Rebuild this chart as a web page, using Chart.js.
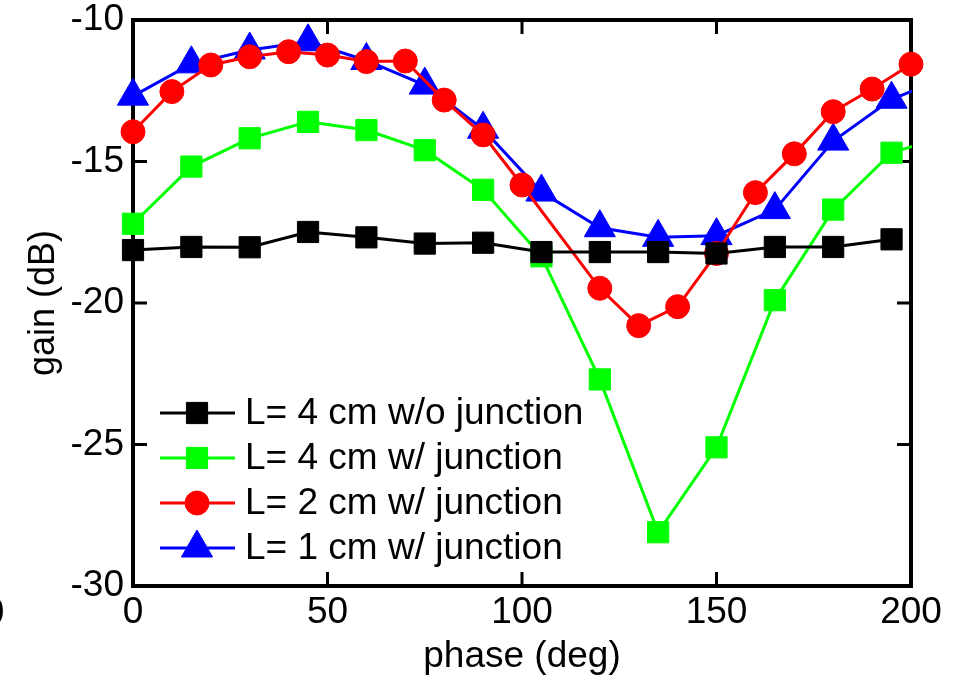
<!DOCTYPE html>
<html>
<head>
<meta charset="utf-8">
<script src="https://cdn.jsdelivr.net/npm/chart.js@4/dist/chart.umd.min.js"></script>
<style>
  body { margin: 0; background: #fff; }
  canvas { display: block; }
</style>
</head>
<body>
<canvas id="gainChart" width="961" height="679"></canvas>
<script>
// phase values (deg)
const phase15 = [0, 15, 30, 45, 60, 75, 90, 105, 120, 135, 150, 165, 180, 195];
const phase15ext = [0, 15, 30, 45, 60, 75, 90, 105, 120, 135, 150, 165, 180, 195, 210];
const phase10 = [0, 10, 20, 30, 40, 50, 60, 70, 80, 90, 100, 120, 130, 140, 150, 160, 170, 180, 190, 200];

// gain (dB)
const gain4cmNoJunction = [-18.13, -18.02, -18.03, -17.49, -17.68, -17.9, -17.87, -18.2, -18.2, -18.2, -18.25, -18.02, -18.02, -17.75];
const gain4cmJunction = [-17.2, -15.18, -14.18, -13.6, -13.89, -14.6, -16.0, -18.35, -22.7, -28.1, -25.1, -19.9, -16.7, -14.69, -14.06];
const gain2cmJunction = [-13.95, -12.53, -11.59, -11.3, -11.12, -11.24, -11.47, -11.45, -12.83, -14.06, -15.83, -19.48, -20.8, -20.13, -18.25, -16.1, -14.73, -13.24, -12.44, -11.56];
const gain1cmJunction = [-12.69, -11.55, -11.06, -10.77, -11.43, -12.3, -13.86, -16.08, -17.34, -17.68, -17.62, -16.7, -14.28, -12.8, -11.98];

const seriesNames = ['L= 4 cm w/o junction', 'L= 4 cm w/ junction', 'L= 2 cm w/ junction', 'L= 1 cm w/ junction'];
const xTicks = [0, 50, 100, 150, 200];
const yTicks = [-30, -25, -20, -15, -10];

const FONT = "'Liberation Sans', Arial, sans-serif";

function toPoints(xs, ys) {
    return ys.map((v, i) => ({ x: xs[i], y: v }));
}

function serie(label, xs, ys, color, style, radius, order, clip) {
    return {
        label: label,
        data: toPoints(xs, ys),
        borderColor: color,
        backgroundColor: color,
        borderWidth: 3,
        pointStyle: style,
        pointRadius: radius,
        pointBorderWidth: 1,
        pointBackgroundColor: color,
        pointBorderColor: color,
        tension: 0,
        order: order,
        clip: clip
    };
}

const wideClip = { left: 20, top: 20, right: 20, bottom: 20 };
const edgeClip = { left: 20, top: 20, right: 1, bottom: 20 };

// axis box with inward ticks on all four sides
const boxPlugin = {
    id: 'box',
    beforeDatasetsDraw(chart) {
        const { ctx, chartArea: a, scales } = chart;
        ctx.save();
        ctx.strokeStyle = '#000';
        ctx.lineWidth = 4;
        ctx.strokeRect(a.left, a.top, a.right - a.left, a.bottom - a.top);
        ctx.lineWidth = 3;
        ctx.beginPath();
        xTicks.forEach(v => {
            const px = scales.x.getPixelForValue(v);
            ctx.moveTo(px, a.bottom); ctx.lineTo(px, a.bottom - 14);
            ctx.moveTo(px, a.top); ctx.lineTo(px, a.top + 14);
        });
        yTicks.forEach(v => {
            const py = scales.y.getPixelForValue(v);
            ctx.moveTo(a.left, py); ctx.lineTo(a.left + 14, py);
            ctx.moveTo(a.right, py); ctx.lineTo(a.right - 14, py);
        });
        ctx.stroke();
        // stray tick label at the left edge
        ctx.fillStyle = '#000';
        ctx.font = '37px ' + FONT;
        ctx.textAlign = 'center';
        ctx.textBaseline = 'middle';
        ctx.fillText('0', -6, 614);
        ctx.restore();
    }
};

// legend inside the plot, line + marker
const legendPlugin = {
    id: 'innerLegend',
    afterDraw(chart) {
        const { ctx, chartArea: a } = chart;
        const rowOffsets = [173, 128, 83, 38];
        ctx.save();
        chart.data.datasets.forEach((ds, i) => {
            const y = a.bottom - rowOffsets[i];
            const x0 = a.left + 27;
            ctx.strokeStyle = ds.borderColor;
            ctx.lineWidth = 3;
            ctx.beginPath();
            ctx.moveTo(x0, y);
            ctx.lineTo(x0 + 75, y);
            ctx.stroke();
            ctx.fillStyle = ds.pointBackgroundColor;
            ctx.strokeStyle = ds.pointBorderColor;
            ctx.lineWidth = 1;
            Chart.helpers.drawPoint(ctx, {
                pointStyle: ds.pointStyle,
                radius: ds.pointRadius,
                rotation: 0,
                borderWidth: 1
            }, x0 + 37, y);
            ctx.fillStyle = '#000';
            ctx.font = '37px ' + FONT;
            ctx.textAlign = 'left';
            ctx.textBaseline = 'middle';
            ctx.fillText(ds.label, x0 + 85, y + 1);
        });
        ctx.restore();
    }
};

const ctx = document.getElementById('gainChart').getContext('2d');
const gainChart = new Chart(ctx, {
    type: 'line',
    data: {
        datasets: [
            serie(seriesNames[0], phase15, gain4cmNoJunction, '#000000', 'rect', 15, 0, wideClip),
            serie(seriesNames[1], phase15ext, gain4cmJunction, '#00ff00', 'rect', 15, 1, edgeClip),
            serie(seriesNames[2], phase10, gain2cmJunction, '#ff0000', 'circle', 12, 2, wideClip),
            serie(seriesNames[3], phase15ext, gain1cmJunction, '#0000ff', 'triangle', 18, 3, edgeClip)
        ]
    },
    options: {
        responsive: false,
        animation: false,
        devicePixelRatio: 1,
        layout: { padding: { top: 20, right: 50, left: 22, bottom: 0 } },
        plugins: {
            legend: { display: false },
            tooltip: { enabled: false }
        },
        scales: {
            x: {
                type: 'linear',
                min: 0,
                max: 200,
                afterBuildTicks: s => { s.ticks = xTicks.map(v => ({ value: v })); },
                afterFit: s => { s.height = 93; s.paddingLeft = 0; s.paddingRight = 0; },
                grid: { display: false, drawTicks: false },
                border: { display: false },
                ticks: { color: '#000', font: { family: FONT, size: 37 }, padding: 5, maxRotation: 0 },
                title: { display: true, text: 'phase (deg)', color: '#000', font: { family: FONT, size: 37 }, padding: 0 }
            },
            y: {
                min: -30,
                max: -10,
                afterBuildTicks: s => { s.ticks = yTicks.map(v => ({ value: v })); },
                afterFit: s => { s.width = 111; s.paddingTop = 0; s.paddingBottom = 0; },
                grid: { display: false, drawTicks: false },
                border: { display: false },
                ticks: { color: '#000', font: { family: FONT, size: 37 }, padding: 9 },
                title: { display: true, text: 'gain (dB)', color: '#000', font: { family: FONT, size: 36 }, padding: 0 }
            }
        }
    },
    plugins: [boxPlugin, legendPlugin]
});
</script>
</body>
</html>
